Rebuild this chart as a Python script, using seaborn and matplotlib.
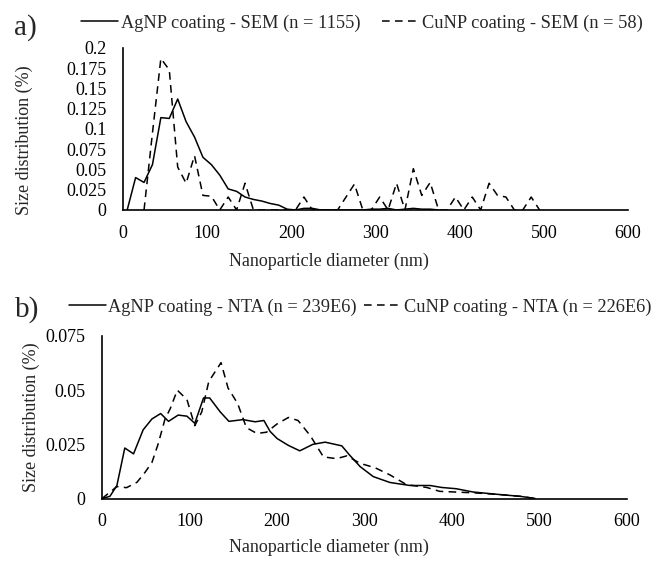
"""
size distribution of AgNP / CuNP coatings, SEM and NTA
"""

import matplotlib
matplotlib.use("Agg")
import matplotlib.pyplot as plt
import pandas as pd
import seaborn as sns

# a) SEM, 10 nm bins
ag_sem_x = [5, 15, 25, 35, 45, 55, 65, 75, 85, 95, 105, 115, 125, 135, 145, 155,
            165, 175, 185, 195, 205, 215, 225, 235, 245, 255, 265, 275, 285, 295,
            305, 315, 325, 335, 345, 355, 365, 375]
ag_sem_y = [0, 0.040, 0.034, 0.056, 0.114, 0.113, 0.137, 0.109, 0.090, 0.065,
            0.056, 0.043, 0.026, 0.023, 0.016, 0.013, 0.011, 0.008, 0.006, 0.001,
            0, 0.002, 0.002, 0, 0, 0, 0, 0, 0, 0.001,
            0.001, 0.002, 0, 0.001, 0.002, 0.001, 0.001, 0]

cu_sem_x = [25, 35, 45, 55, 65, 75, 85, 95, 105, 115, 125, 135, 145, 155, 165,
            175, 185, 195, 205, 215, 225, 235, 245, 255, 265, 275, 285, 295, 305,
            315, 325, 335, 345, 355, 365, 375, 385, 395, 405, 415, 425, 435, 445,
            455, 465, 475, 485, 495]
cu_sem_y = [0, 0.095, 0.187, 0.173, 0.053, 0.033, 0.067, 0.018, 0.017, 0, 0.016,
            0, 0.033, 0, 0, 0, 0, 0, 0, 0.016, 0, 0, 0, 0, 0.016, 0.032, 0, 0,
            0.016, 0, 0.033, 0, 0.051, 0.018, 0.034, 0, 0, 0.016, 0, 0.016, 0,
            0.033, 0.018, 0.016, 0, 0, 0.016, 0]

# b) NTA
ag_nta_x = [0, 9, 17, 26, 36, 47, 57, 67, 76, 87, 97, 106, 116, 123, 135, 145,
            161, 175, 185, 192, 200, 213, 226, 241, 255, 274, 283, 295, 310, 329,
            352, 375, 388, 405, 424, 455, 478, 495]
ag_nta_y = [0, 0.001, 0.006, 0.0233, 0.0206, 0.0317, 0.0367, 0.0392, 0.0356,
            0.0385, 0.038, 0.0347, 0.0464, 0.0464, 0.040, 0.0356, 0.0364, 0.0354,
            0.036, 0.031, 0.0277, 0.0245, 0.022, 0.025, 0.026, 0.0243, 0.020,
            0.0147, 0.0101, 0.0074, 0.006, 0.006, 0.0051, 0.0045, 0.003, 0.0018,
            0.001, 0]

cu_nta_x = [0, 17, 28, 40, 49, 57, 64, 72, 78, 86, 97, 106, 114, 122, 136, 144,
            155, 165, 177, 188, 200, 213, 224, 238, 253, 268, 280, 295, 312, 329,
            348, 371, 386, 409, 430, 455, 478, 495]
cu_nta_y = [0, 0.0055, 0.005, 0.0075, 0.012, 0.0166, 0.025, 0.0367, 0.0415,
            0.050, 0.0457, 0.0336, 0.040, 0.054, 0.0627, 0.051, 0.0438, 0.0327,
            0.030, 0.0306, 0.0344, 0.0374, 0.036, 0.029, 0.0192, 0.0184, 0.0197,
            0.0162, 0.0142, 0.0109, 0.0064, 0.0051, 0.0033, 0.0029, 0.0025,
            0.0018, 0.001, 0]

sem_labels = ['AgNP coating - SEM (n = 1155)', 'CuNP coating - SEM (n = 58)']
nta_labels = ['AgNP coating - NTA (n = 239E6)', 'CuNP coating - NTA (n = 226E6)']

sem_yticks = [0, 0.025, 0.05, 0.075, 0.1, 0.125, 0.15, 0.175, 0.2]
sem_yticklabels = ['0', '0.025', '0.05', '0.075', '0.1', '0.125', '0.15', '0.175', '0.2']
nta_yticks = [0, 0.025, 0.05, 0.075]
nta_yticklabels = ['0', '0.025', '0.05', '0.075']
xticks = [0, 100, 200, 300, 400, 500, 600]

sns.set_style("white")
plt.rcParams['font.family'] = ['Liberation Serif', 'DejaVu Serif']

fig = plt.figure(figsize=(6.57, 5.61), dpi=100)
ax_a = fig.add_axes([0.1872, 0.6257, 0.7686, 0.2888])
ax_b = fig.add_axes([0.1553, 0.1114, 0.7991, 0.2897])

DASH = (0, (5, 3.5))
FS = 13


def panel(ax, x1, y1, x2, y2, labels, yticks, yticklabels, ymax):
    d1 = pd.DataFrame({'x': x1, 'y': y1})
    d2 = pd.DataFrame({'x': x2, 'y': y2})
    sns.lineplot(data=d1, x='x', y='y', ax=ax, color='black', lw=1.1,
                 label=labels[0])
    sns.lineplot(data=d2, x='x', y='y', ax=ax, color='black', lw=1.1,
                 linestyle=DASH, label=labels[1])
    ax.set_xlim(0, 600)
    ax.set_ylim(0, ymax)
    ax.set_xticks(xticks)
    ax.set_yticks(yticks)
    ax.set_yticklabels(yticklabels)
    ax.tick_params(axis='both', length=0, labelsize=FS, colors='black')
    ax.tick_params(axis='x', pad=10.5)
    ax.tick_params(axis='y', pad=12)
    for s in ['top', 'right']:
        ax.spines[s].set_visible(False)
    for s in ['left', 'bottom']:
        ax.spines[s].set_color('black')
        ax.spines[s].set_linewidth(1.2)
    ax.set_xlabel('')
    ax.set_ylabel('Size distribution (%)', fontsize=FS)
    ax.get_legend().remove()


panel(ax_a, ag_sem_x, ag_sem_y, cu_sem_x, cu_sem_y, sem_labels,
      sem_yticks, sem_yticklabels, 0.2)
panel(ax_b, ag_nta_x, ag_nta_y, cu_nta_x, cu_nta_y, nta_labels,
      nta_yticks, nta_yticklabels, 0.075)
ax_a.yaxis.set_label_coords(-0.178, 0.43)
ax_b.yaxis.set_label_coords(-0.118, 0.5)

# legends above each panel
h, l = ax_a.get_legend_handles_labels()
fig.legend(h, l, loc='center', bbox_to_anchor=(362 / 657, 1 - 23 / 561), ncol=2,
           frameon=False, fontsize=13.2, handlelength=2.0, handletextpad=0.15,
           columnspacing=1.2, borderaxespad=0)
h, l = ax_b.get_legend_handles_labels()
fig.legend(h, l, loc='center', bbox_to_anchor=(360 / 657, 1 - 307 / 561), ncol=2,
           frameon=False, fontsize=13.2, handlelength=2.0, handletextpad=0.15,
           columnspacing=0.4, borderaxespad=0)

fig.text(0.5, 1 - 261 / 561, 'Nanoparticle diameter (nm)', ha='center',
         va='center', fontsize=FS)
fig.text(0.5, 1 - 547 / 561, 'Nanoparticle diameter (nm)', ha='center',
         va='center', fontsize=FS)
fig.text(25 / 657, 1 - 28 / 561, 'a)', ha='center', va='center', fontsize=21)
fig.text(27 / 657, 1 - 310 / 561, 'b)', ha='center', va='center', fontsize=21)

fig.savefig('out.png', dpi=100)
